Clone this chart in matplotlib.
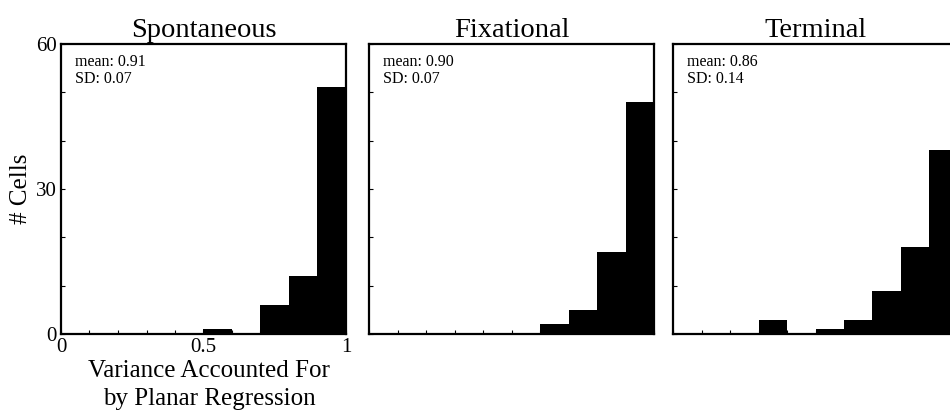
import matplotlib.pyplot as plt
import numpy as np

# histogram data: counts per bin of width 0.1, from 0 to 1
bin_left = [0.0, 0.1, 0.2, 0.3, 0.4, 0.5, 0.6, 0.7, 0.8, 0.9]
spontaneous = [0, 0, 0, 0, 0, 1, 0, 6, 12, 51]
fixational = [0, 0, 0, 0, 0, 0, 2, 5, 17, 48]
terminal = [0, 0, 0, 3, 0, 1, 3, 9, 18, 38]

titles = ["Spontaneous", "Fixational", "Terminal"]
stats = ["mean: 0.91\nSD: 0.07", "mean: 0.90\nSD: 0.07", "mean: 0.86\nSD: 0.14"]
series = [spontaneous, fixational, terminal]

plt.rcParams['font.family'] = ['Liberation Serif', 'DejaVu Serif']

fig = plt.figure(figsize=(9.5, 4.11), dpi=100, facecolor="white")

lefts = [61 / 950, 369 / 950, 673 / 950]
bottom = 1 - 334 / 411
width = 285 / 950
height = 290 / 411

for i in range(3):
    ax = fig.add_axes([lefts[i], bottom, width, height])
    ax.bar(bin_left, series[i], width=0.1, align='edge', color='black', linewidth=0)
    ax.set_xlim(0, 1)
    ax.set_ylim(0, 60)
    ax.set_xticks(np.arange(0, 1.01, 0.1))
    ax.set_yticks(np.arange(0, 61, 10))
    ax.tick_params(direction='in', length=3, width=0.8, labelsize=15, pad=3)
    for s in ax.spines.values():
        s.set_linewidth(1.6)
    if i == 0:
        ax.set_xticklabels(["0", "", "", "", "", "0.5", "", "", "", "", "1"])
        ax.set_yticklabels(["0", "", "", "30", "", "", "60"])
        ax.set_ylabel("# Cells", fontsize=18, labelpad=3)
        ax.set_xlabel("Variance Accounted For\nby Planar Regression", fontsize=18,
                      linespacing=1.35)
        ax.xaxis.set_label_coords(0.52, -0.09)
    else:
        ax.set_xticklabels([])
        ax.set_yticklabels([])
    ax.set_title(titles[i], fontsize=20.5, pad=5)
    ax.text(0.05, 0.965, stats[i], transform=ax.transAxes, fontsize=11.5,
            va='top', ha='left', linespacing=1.05)

fig.savefig("out.png", dpi=100, facecolor="white")
